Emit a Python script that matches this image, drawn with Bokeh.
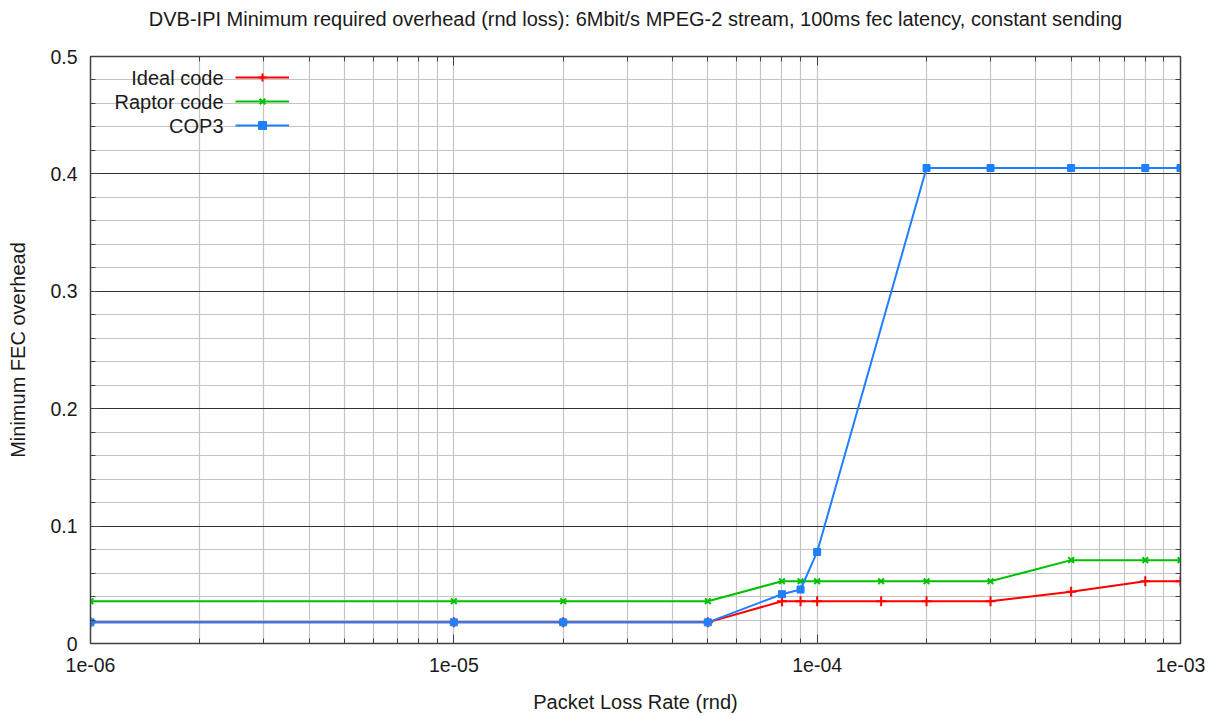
import numpy as np
from bokeh.plotting import figure
from bokeh.models import (Range1d, FixedTicker, LogAxis, LinearAxis, Legend, LegendItem, Label)
from bokeh.embed import file_html
from bokeh.resources import INLINE

# ---------------- data ----------------
x_ideal = [1e-6, 1e-5, 2e-5, 5e-5, 8e-5, 9e-5, 1e-4, 1.5e-4, 2e-4, 3e-4, 5e-4, 8e-4, 1e-3]
y_ideal = [0.018, 0.018, 0.018, 0.018, 0.036, 0.036, 0.036, 0.036, 0.036, 0.036, 0.044, 0.053, 0.053]

x_raptor = [1e-6, 1e-5, 2e-5, 5e-5, 8e-5, 9e-5, 1e-4, 1.5e-4, 2e-4, 3e-4, 5e-4, 8e-4, 1e-3]
y_raptor = [0.036, 0.036, 0.036, 0.036, 0.053, 0.053, 0.053, 0.053, 0.053, 0.053, 0.071, 0.071, 0.071]

x_cop3 = [1e-6, 1e-5, 2e-5, 5e-5, 8e-5, 9e-5, 1e-4, 2e-4, 3e-4, 5e-4, 8e-4, 1e-3]
y_cop3 = [0.018, 0.018, 0.018, 0.018, 0.042, 0.046, 0.078, 0.405, 0.405, 0.405, 0.405, 0.405]

series_names = ["Ideal code", "Raptor code", "COP3"]

x_ticks = [1e-6, 1e-5, 1e-4, 1e-3]
x_tick_labels = ["1e-06", "1e-05", "1e-04", "1e-03"]
y_ticks = [0, 0.1, 0.2, 0.3, 0.4, 0.5]
y_tick_labels = ["0", "0.1", "0.2", "0.3", "0.4", "0.5"]

title = "DVB-IPI Minimum required overhead (rnd loss): 6Mbit/s MPEG-2 stream, 100ms fec latency, constant sending"
x_label = "Packet Loss Rate (rnd)"
y_label = "Minimum FEC overhead"

# ---------------- style ----------------
FONT = "Liberation Sans"
TXT = "#1a1a1a"
FRAME = "#404040"
RED = "#ff0000"
GREEN = "#00c000"
BLUE = "#1e7fff"

x_minor = [m * d for d in x_ticks[:-1] for m in range(2, 10)]
y_minor = [round(v, 3) for v in np.arange(0, 0.5001, 0.02) if round(v * 50) % 5 != 0]

p = figure(width=1210, height=716, x_axis_type="log",
           x_range=Range1d(1e-6, 1e-3), y_range=Range1d(0, 0.5),
           output_backend="svg", toolbar_location=None,
           min_border_left=90, min_border_right=30, min_border_top=56, min_border_bottom=73)
p.title = None

p.outline_line_color = FRAME
p.outline_line_width = 1.5
p.background_fill_color = "white"

xt = FixedTicker(ticks=x_ticks, minor_ticks=x_minor)
yt = FixedTicker(ticks=y_ticks, minor_ticks=y_minor)

ax = p.xaxis[0]
ax.ticker = xt
ax.major_label_overrides = dict(zip(x_ticks, x_tick_labels))
ax.axis_label = x_label
ay = p.yaxis[0]
ay.ticker = yt
ay.major_label_overrides = dict(zip(y_ticks, y_tick_labels))
ay.axis_label = y_label

# mirrored ticks on top (carrying the chart title) and right
mirror_kw = dict(major_label_text_font_size="1px", major_label_text_alpha=0,
                 major_label_standoff=0)
top = LogAxis(ticker=xt, axis_label=title, **mirror_kw)
right = LinearAxis(ticker=yt, **mirror_kw)
p.add_layout(top, "above")
p.add_layout(right, "right")

for a in (ax, ay, top, right):
    a.axis_label_text_font = FONT
    a.axis_label_text_font_size = "20px"
    a.axis_label_text_font_style = "normal"
    a.axis_label_text_color = TXT
    a.axis_line_color = FRAME
    a.major_tick_in = 9
    a.major_tick_out = 0
    a.minor_tick_in = 5
    a.minor_tick_out = 0
    a.major_tick_line_color = FRAME
    a.minor_tick_line_color = FRAME
for a in (ax, ay):
    a.major_label_text_font = FONT
    a.major_label_text_font_size = "19.5px"
    a.major_label_text_color = TXT
ax.major_label_standoff = 14
ax.axis_label_standoff = 16
ay.major_label_standoff = 13
ay.axis_label_standoff = 18
top.axis_label_standoff = 27

p.xgrid.grid_line_color = "#c4c4c4"
p.xgrid.minor_grid_line_color = "#c4c4c4"
p.ygrid.grid_line_color = "#303030"
p.ygrid.minor_grid_line_color = "#c4c4c4"
p.xgrid.grid_line_width = 1.2
p.xgrid.minor_grid_line_width = 1.2
p.ygrid.minor_grid_line_width = 1.2

# ---------------- series ----------------
l1 = p.line(x_ideal, y_ideal, line_color=RED, line_width=2)
m1 = p.scatter(x_ideal, y_ideal, marker="cross", size=10, line_color=RED, line_width=2)
l2 = p.line(x_raptor, y_raptor, line_color=GREEN, line_width=2)
m2 = p.scatter(x_raptor, y_raptor, marker="x", size=8, line_color=GREEN, line_width=2)
l3 = p.line(x_cop3, y_cop3, line_color=BLUE, line_width=2)
m3 = p.scatter(x_cop3, y_cop3, marker="square", size=7, line_color=BLUE, fill_color=BLUE)

legend = Legend(items=[LegendItem(label=" ", renderers=[l1, m1]),
                       LegendItem(label=" ", renderers=[l2, m2]),
                       LegendItem(label=" ", renderers=[l3, m3])],
                location=(145, 508), orientation="vertical",
                glyph_width=54, glyph_height=20, label_height=20, label_width=1,
                label_standoff=0, label_text_font_size="10px", spacing=4, padding=0,
                margin=0, border_line_color=None, background_fill_alpha=0)
p.add_layout(legend, "center")

for i, name in enumerate(series_names):
    p.add_layout(Label(x=133, y=566 - 24 * i, x_units="screen", y_units="screen",
                       text=name, text_align="right", text_baseline="middle",
                       text_font=FONT, text_font_size="20px", text_color=TXT))

open("out.html", "w").write(file_html(p, INLINE))
